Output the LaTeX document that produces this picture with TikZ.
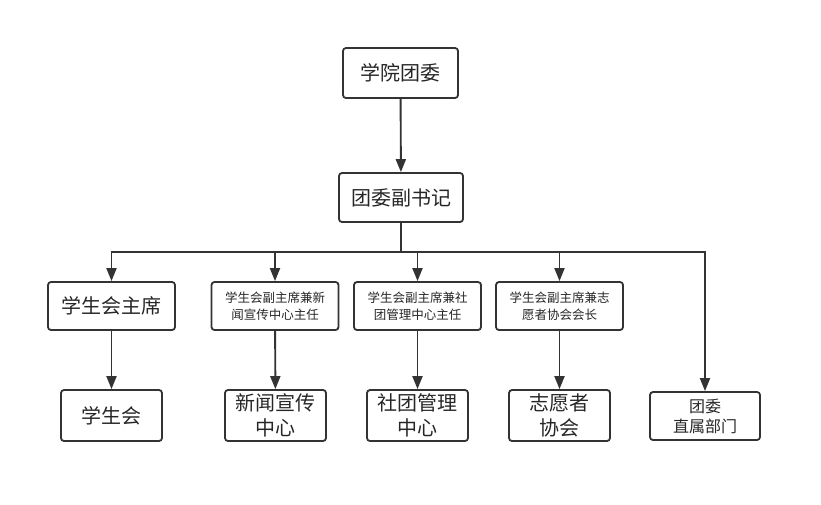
\documentclass[tikz,border=0pt]{standalone}
\usepackage{fontspec}
\setmainfont{Noto Sans CJK SC}
\usetikzlibrary{arrows.meta,positioning}

\newcommand{\bigtxt}{\fontsize{20}{25}\selectfont}
\newcommand{\midtxt}{\fontsize{16}{20}\selectfont}
\newcommand{\smltxt}{\fontsize{12.5}{17}\selectfont}

\begin{document}
\begin{tikzpicture}[x=1pt, y=-1pt,
    box/.style = {draw=black!80, line width=1.8pt, rounded corners=3pt,
                  align=center, inner sep=0pt, text=black!85},
    vpbox/.style = {box, minimum width=127pt, minimum height=48pt, font=\smltxt},
    unit/.style = {box, minimum width=101pt, minimum height=51pt, font=\bigtxt},
    arr/.style = {draw=black!80, line width=1.9pt,
                  -{Triangle[length=13pt,width=10pt]}}]

	\useasboundingbox (0,0) rectangle (821,504);

	% top of the tree
	\node[box, minimum width=115pt, minimum height=50pt, font=\bigtxt] (league) at (400.5,73) {学院团委};
	\node[box, minimum width=124pt, minimum height=49pt, font=\bigtxt] (deputy) at (401,197.5) {团委副书记};
	\coordinate (bus) at (401,252);

	% second row
	\node[box, minimum width=127pt, minimum height=48pt, font=\bigtxt] (chair) at (111.5,306) {学生会主席};
	\node[vpbox] (vpnews) at (275,306) {学生会副主席兼新\\闻宣传中心主任};
	\node[vpbox] (vpclub) at (417.5,306) {学生会副主席兼社\\团管理中心主任};
	\node[vpbox] (vpvol) at (559.5,306) {学生会副主席兼志\\愿者协会会长};

	% third row
	\node[unit] (union) at (111.5,415.5) {学生会};
	\node[unit] (news) at (275.5,415.5) {新闻宣传\\中心};
	\node[unit] (club) at (417.5,415.5) {社团管理\\中心};
	\node[unit] (vol) at (559.5,415.5) {志愿者\\协会};
	\node[box, minimum width=110pt, minimum height=48pt, font=\midtxt] (direct) at (705,416) {团委\\直属部门};

	% connectors
	\draw[arr] (league) -- (deputy);
	\draw[arr] (deputy) -- (bus) -| (chair);
	\draw[arr] (bus) -| (vpnews);
	\draw[arr] (bus) -| (vpclub);
	\draw[arr] (bus) -| (vpvol);
	\draw[arr] (bus) -| (direct);

	\draw[arr] (chair) -- (union);
	\draw[arr] (vpnews) -- (news);
	\draw[arr] (vpclub) -- (club);
	\draw[arr] (vpvol) -- (vol);

\end{tikzpicture}
\end{document}
